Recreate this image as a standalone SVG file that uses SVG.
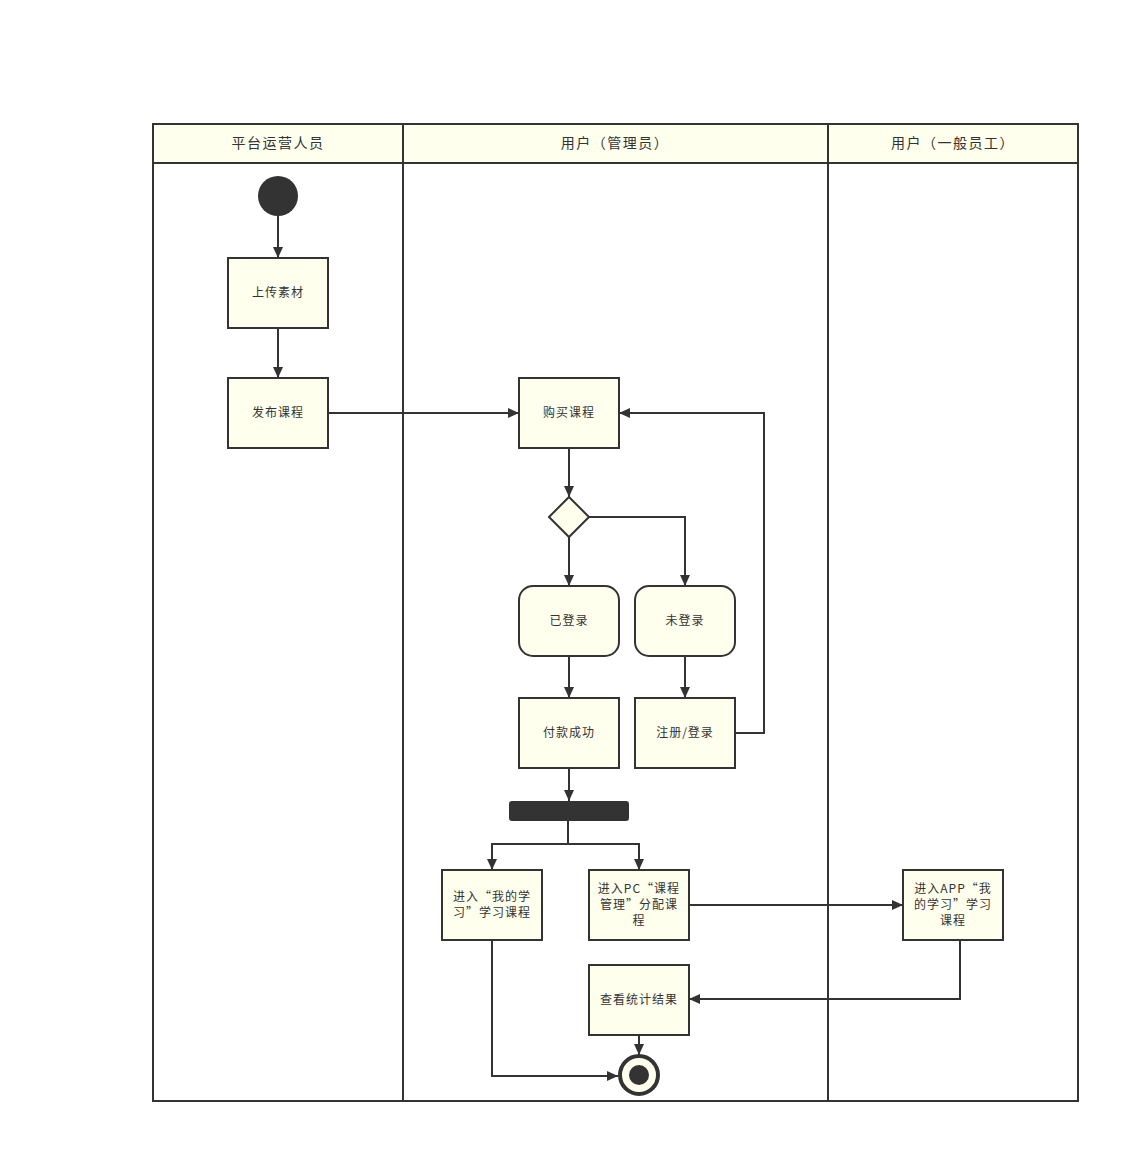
<svg xmlns="http://www.w3.org/2000/svg" width="1140" height="1162" viewBox="0 0 1140 1162">
<defs>
<marker id="arr" markerWidth="12" markerHeight="10" refX="11" refY="5" orient="auto" markerUnits="userSpaceOnUse">
<path d="M0,0 L11,5 L0,10 z" fill="#333"/>
</marker>
<style>
.lane{fill:none;stroke:#333;stroke-width:2}
.hdr{fill:#ffffee;stroke:#333;stroke-width:2}
.node{fill:#ffffee;stroke:#333;stroke-width:2}
.t{font-family:"Noto Sans CJK SC","Liberation Sans",sans-serif;font-size:12px;letter-spacing:1px;fill:#333;text-anchor:middle}
.h{font-family:"Noto Sans CJK SC","Liberation Sans",sans-serif;font-size:14px;letter-spacing:1.5px;fill:#333;text-anchor:middle}
.c{fill:none;stroke:#333;stroke-width:2;marker-end:url(#arr)}
</style>
</defs>
<rect width="1140" height="1162" fill="#fff"/>
<g id="pool">
<rect class="hdr" x="153" y="124" width="925" height="39"/>
<rect class="lane" x="153" y="124" width="925" height="977"/>
<line class="lane" x1="403" y1="124" x2="403" y2="1101"/>
<line class="lane" x1="828" y1="124" x2="828" y2="1101"/>
<text class="h" x="278" y="148">平台运营人员</text>
<text class="h" x="615" y="148">用户（管理员）</text>
<text class="h" x="953" y="148">用户（一般员工）</text>
</g>
<g id="connectors">
<path class="c" d="M278,216 L278,258"/>
<path class="c" d="M278,328 L278,378"/>
<path class="c" d="M328,413 L519,413"/>
<path class="c" d="M569,448 L569,497"/>
<path class="c" d="M569,537 L569,586"/>
<path class="c" d="M589,517 L685,517 L685,586"/>
<path class="c" d="M569,656 L569,698"/>
<path class="c" d="M685,656 L685,698"/>
<path class="c" d="M735,733 L764,733 L764,413 L619,413"/>
<path class="c" d="M569,768 L569,801"/>
<path class="c" d="M568,821 L568,844 L492,844 L492,870"/>
<path class="c" d="M568,844 L639,844 L639,870"/>
<path class="c" d="M689,905 L903,905"/>
<path class="c" d="M960,940 L960,999 L689,999"/>
<path class="c" d="M639,1035 L639,1055"/>
<path class="c" d="M492,940 L492,1076 L618,1076"/>
</g>
<g id="start"><circle cx="278" cy="196" r="20" fill="#333"/></g>
<g id="n1"><rect class="node" x="228" y="258" width="100" height="70"/><text class="t" x="278" y="297">上传素材</text></g>
<g id="n2"><rect class="node" x="228" y="378" width="100" height="70"/><text class="t" x="278" y="417">发布课程</text></g>
<g id="n3"><rect class="node" x="519" y="378" width="100" height="70"/><text class="t" x="569" y="417">购买课程</text></g>
<g id="d1"><polygon class="node" points="569,497 589,517 569,537 549,517"/></g>
<g id="n4"><rect class="node" x="519" y="586" width="100" height="70" rx="14"/><text class="t" x="569" y="625">已登录</text></g>
<g id="n5"><rect class="node" x="635" y="586" width="100" height="70" rx="14"/><text class="t" x="685" y="625">未登录</text></g>
<g id="n6"><rect class="node" x="519" y="698" width="100" height="70"/><text class="t" x="569" y="737">付款成功</text></g>
<g id="n7"><rect class="node" x="635" y="698" width="100" height="70"/><text class="t" x="685" y="737">注册/登录</text></g>
<g id="fork"><rect x="509" y="801" width="120" height="20" rx="3" fill="#333"/></g>
<g id="n8"><rect class="node" x="442" y="870" width="100" height="70"/><text class="t" x="492" y="901">进入“我的学</text><text class="t" x="492" y="917">习”学习课程</text></g>
<g id="n9"><rect class="node" x="589" y="870" width="100" height="70"/><text class="t" x="639" y="893">进入PC“课程</text><text class="t" x="639" y="909">管理”分配课</text><text class="t" x="639" y="925">程</text></g>
<g id="n10"><rect class="node" x="903" y="870" width="100" height="70"/><text class="t" x="953" y="893">进入APP“我</text><text class="t" x="953" y="909">的学习”学习</text><text class="t" x="953" y="925">课程</text></g>
<g id="n11"><rect class="node" x="589" y="965" width="100" height="70"/><text class="t" x="639" y="1004">查看统计结果</text></g>
<g id="end"><circle cx="639" cy="1075" r="19" fill="#ffffee" stroke="#333" stroke-width="4"/><circle cx="639" cy="1075" r="10" fill="#333"/></g>
</svg>
